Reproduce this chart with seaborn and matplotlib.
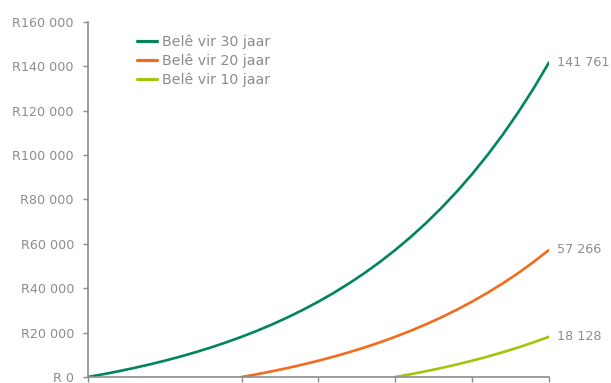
import matplotlib
matplotlib.use("Agg")
import matplotlib.pyplot as plt
import seaborn as sns
import pandas as pd
from matplotlib.lines import Line2D

# Values read/estimated from the reference chart (Rand)
years_30 = list(range(0, 31))
values_30 = [0, 1251, 2603, 4062, 5638, 7340, 9180, 11165, 13309, 15625,
             18128, 20827, 23746, 26896, 30300, 33976, 37944, 42231, 46860, 51861,
             57266, 63093, 69392, 76195, 83542, 91477, 100046, 109301, 119296, 130091,
             141761]
years_20 = list(range(10, 31))
values_20 = [0, 1251, 2603, 4062, 5638, 7340, 9180, 11165, 13309, 15625,
             18128, 20827, 23746, 26896, 30300, 33976, 37944, 42231, 46860, 51861,
             57266]
years_10 = list(range(20, 31))
values_10 = [0, 1251, 2603, 4062, 5638, 7340, 9180, 11165, 13309, 15625, 18128]

series_names = ["Belê vir 30 jaar", "Belê vir 20 jaar", "Belê vir 10 jaar"]
end_labels = ["141 761", "57 266", "18 128"]
y_ticks = [0, 20000, 40000, 60000, 80000, 100000, 120000, 140000, 160000]
y_tick_labels = ["R 0", "R20 000", "R40 000", "R60 000", "R80 000",
                 "R100 000", "R120 000", "R140 000", "R160 000"]
x_ticks = [0, 10, 15, 20, 25, 30]

colors = ["#00855E", "#F26C1C", "#A6C40A"]
grey = "#8C8C8C"

df = pd.concat([
    pd.DataFrame({"jaar": years_30, "waarde": values_30, "reeks": series_names[0]}),
    pd.DataFrame({"jaar": years_20, "waarde": values_20, "reeks": series_names[1]}),
    pd.DataFrame({"jaar": years_10, "waarde": values_10, "reeks": series_names[2]}),
])

sns.set_style("white")
plt.rcParams["font.family"] = ["DejaVu Sans"]
fs = 9.2
fs_leg = 10.2

fig = plt.figure(figsize=(6.11, 3.83), dpi=100)
ax = fig.add_axes([0.144, 0.0157, 0.8985 - 0.144, 0.9426 - 0.0157])

sns.lineplot(data=df, x="jaar", y="waarde", hue="reeks", hue_order=series_names,
             palette=colors, linewidth=1.9, ax=ax, legend=False)

ax.set_xlim(0, 30)
ax.set_ylim(0, 160000)
ax.set_yticks(y_ticks)
ax.set_yticklabels(y_tick_labels)
ax.set_xticks(x_ticks)
ax.set_xticklabels([])
ax.set_xlabel("")
ax.set_ylabel("")

for s in ["top", "right"]:
    ax.spines[s].set_visible(False)
for s in ["left", "bottom"]:
    ax.spines[s].set_color(grey)
    ax.spines[s].set_linewidth(1.2)
ax.tick_params(axis="y", direction="out", length=3.6, width=1.0, color=grey,
               labelcolor=grey, labelsize=fs, pad=6.5, left=True)
ax.tick_params(axis="x", direction="out", length=3.6, width=1.0, color=grey, bottom=True)

ends = [(years_30[-1], values_30[-1]), (years_20[-1], values_20[-1]), (years_10[-1], values_10[-1])]
for (x, y), lab in zip(ends, end_labels):
    ax.annotate(lab, xy=(x, y), xytext=(5.5, 0), textcoords="offset points",
                va="center", ha="left", color=grey, fontsize=fs, annotation_clip=False)

handles = [Line2D([0], [0], color=c, linewidth=2.3) for c in colors]
leg = ax.legend(handles, series_names, loc="upper left", bbox_to_anchor=(0.093, 0.981),
                frameon=False, fontsize=fs_leg, handlelength=1.48, handletextpad=0.3,
                labelspacing=0.32, borderaxespad=0)
for t in leg.get_texts():
    t.set_color(grey)

fig.savefig("out.png", dpi=100)
